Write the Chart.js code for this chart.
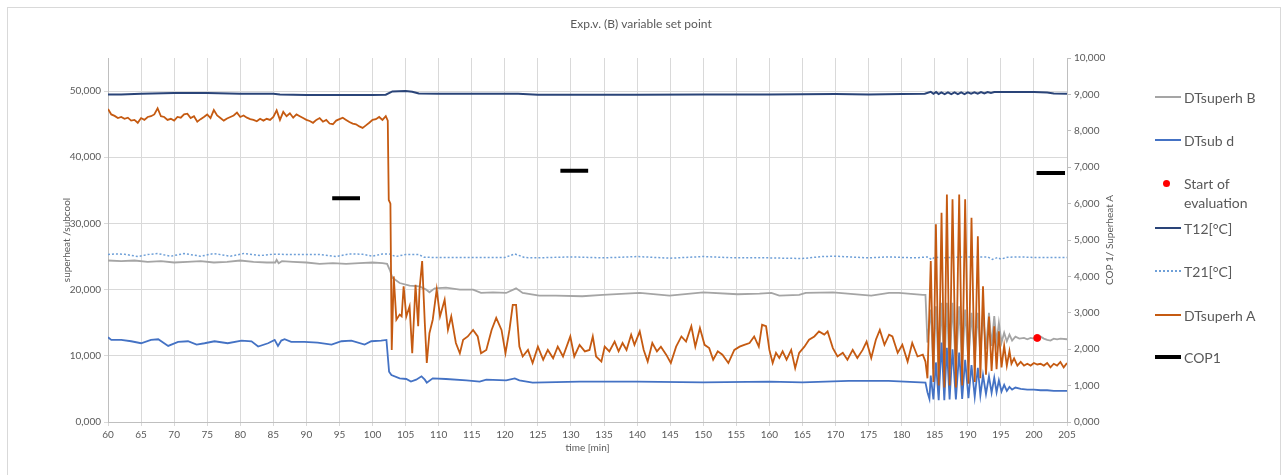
<!DOCTYPE html>
<html>
<head>
<meta charset="utf-8">
<script src="https://cdn.jsdelivr.net/npm/chart.js@4.4.1/dist/chart.umd.min.js"></script>
<style>
  body { margin: 0; background: #fff; font-family: Lato, "Open Sans", sans-serif; }
  #wrap { position: relative; width: 1282px; height: 475px; }
  #frame { position: absolute; left: 7px; top: 7px; width: 1272px; height: 472px; border: 1px solid #d9d9d9; pointer-events: none; }
  .leg { position: absolute; left: 1184px; font-size: 14px; color: #595959; line-height: 19px; transform: translateY(-50%); white-space: nowrap; }
  .sw { position: absolute; left: 1155px; width: 26px; height: 0; }
  .dot { position: absolute; left: 1163px; width: 7px; height: 7px; border-radius: 50%; background: #ff0000; }
</style>
</head>
<body>
<div id="wrap">
  <canvas id="chart" width="1282" height="475"></canvas>
  <div id="frame"></div>
  <div class="sw" style="top:96px;border-top:2px solid #a5a5a5"></div>
  <div class="leg" style="top:97px">DTsuperh B</div>
  <div class="sw" style="top:139px;border-top:2px solid #4472c4"></div>
  <div class="leg" style="top:140px">DTsub d</div>
  <div class="dot" style="top:180px"></div>
  <div class="leg" style="top:193px">Start of<br>evaluation</div>
  <div class="sw" style="top:227px;border-top:2px solid #2a4478"></div>
  <div class="leg" style="top:228px">T12[°C]</div>
  <div class="sw" style="top:270px;border-top:2px dotted #6fa0d8"></div>
  <div class="leg" style="top:271px">T21[°C]</div>
  <div class="sw" style="top:314px;border-top:2px solid #c55a11"></div>
  <div class="leg" style="top:315px">DTsuperh A</div>
  <div class="sw" style="top:355px;border-top:4px solid #000"></div>
  <div class="leg" style="top:357px">COP1</div>
</div>
<script>
// time axis [min], left axis 0..55 (superheat/subcool), right axis 0..10 (COP / superheat A)
const xTicks = [60, 205, 5];

// DTsuperh A (right axis)
const tSuperhA = [
  60, 60.5, 61, 61.5, 62, 62.5, 63, 63.5, 64, 64.5,
  65, 65.5, 66, 66.5, 67, 67.5, 68, 68.5, 69, 69.5,
  70, 70.5, 71, 71.5, 72, 72.5, 73, 73.5, 74, 74.5,
  75, 75.5, 76, 76.5, 77, 77.5, 78, 78.5, 79, 79.5,
  80, 80.5, 81, 81.5, 82, 82.5, 83, 83.5, 84, 84.5,
  85, 85.5, 86, 86.5, 87, 87.5, 88, 88.5, 89, 89.5,
  90, 90.5, 91, 91.5, 92, 92.5, 93, 93.5, 94, 94.5,
  95, 95.5, 96, 96.5, 97, 97.5, 98, 98.5, 99, 99.5,
  100, 100.5, 101, 101.5, 102, 102.3,
  102.45, 102.7, 102.9, 103.2, 103.6, 104.1, 104.4, 104.7, 105.1, 105.6,
  106.0, 106.5, 106.9, 107.1, 107.5, 107.9, 108.2, 108.6, 109.1, 109.7,
  110.2, 110.9, 111.4, 111.9, 112.6, 113.2, 113.7, 114.4, 115.2, 115.9,
  116.4, 117.2, 118.0, 118.7, 119.5, 120.1, 120.7, 121.2, 121.7, 122.2,
  122.7, 123.5, 124.2, 125.0, 125.8, 126.5, 127.3, 128.0, 128.8, 129.9,
  130.5, 131.3, 132.1, 132.8, 133.3, 133.8, 134.6, 135.1, 135.8, 136.6,
  137.2, 137.8, 138.4, 139.1, 139.6, 140.4, 141.0, 141.6, 142.3, 143.0,
  143.6, 144.4, 145.1, 145.9, 146.7, 147.4, 148.2, 148.8, 149.5, 150.2,
  150.9, 151.5, 152.2, 152.9, 153.8, 154.7, 155.5, 156.2, 157.0, 157.7,
  158.4, 158.9, 159.5, 160.0, 160.5, 161.0, 161.5, 162.0, 162.6, 163.3,
  163.9, 164.5, 165.3, 166.0, 166.8, 167.5, 168.3, 168.8, 169.6, 170.3,
  171.1, 171.8, 172.6, 173.3, 174.1, 174.7, 175.4, 176.1, 176.7, 177.4,
  178.1, 178.6, 179.4, 180.1, 180.9, 181.6, 182.4, 183.2, 183.6,
  183.9, 184.4, 184.8, 185.18, 185.6, 186.03, 186.45, 186.84, 187.25, 187.69,
  188.2, 188.7, 189.15, 189.6, 190.1, 190.56, 191.05, 191.52, 191.9, 192.3,
  192.75, 193.2, 193.6, 194.0, 194.35, 194.7, 195.1, 195.5, 195.9, 196.3,
  196.6, 197, 197.5, 198, 198.5, 199, 199.5, 200, 200.5, 201,
  201.5, 202, 202.5, 203, 203.5, 204, 204.5, 205
];
const superhA = [
  8.6, 8.45, 8.41, 8.35, 8.38, 8.33, 8.36, 8.28, 8.3, 8.22,
  8.35, 8.3, 8.38, 8.4, 8.45, 8.62, 8.4, 8.38, 8.3, 8.33,
  8.28, 8.38, 8.36, 8.45, 8.47, 8.35, 8.4, 8.25, 8.32, 8.38,
  8.45, 8.35, 8.57, 8.42, 8.35, 8.28, 8.34, 8.38, 8.42, 8.5,
  8.38, 8.42, 8.36, 8.32, 8.3, 8.26, 8.33, 8.28, 8.33, 8.3,
  8.38, 8.56, 8.3, 8.52, 8.4, 8.48, 8.36, 8.45, 8.4, 8.35,
  8.3, 8.27, 8.22, 8.3, 8.35, 8.25, 8.3, 8.2, 8.18, 8.28,
  8.32, 8.36, 8.3, 8.24, 8.2, 8.18, 8.12, 8.08, 8.15, 8.22,
  8.3, 8.32, 8.38, 8.3, 8.4, 8.28,
  6.1, 6.0, 1.98, 4.0, 2.81, 2.95, 2.9, 3.73, 2.9, 3.18,
  1.89, 3.77, 2.63, 3.64, 4.42, 2.72, 1.62, 2.44, 2.81, 3.64,
  2.9, 3.36, 2.53, 2.9, 2.17, 1.89, 2.26, 2.35, 2.53, 2.35,
  1.89, 1.98, 2.53, 2.86, 2.53, 1.89, 2.53, 3.22, 3.22, 2.07,
  1.8, 1.98, 1.62, 2.07, 1.71, 1.98, 1.75, 2.07, 1.8, 2.35,
  1.8, 2.12, 1.94, 1.98, 2.35, 1.8, 1.66, 2.07, 1.94, 2.21,
  1.94, 2.17, 1.98, 2.4, 2.12, 2.49, 1.98, 1.66, 2.17, 1.94,
  2.07, 1.85, 1.62, 2.07, 2.35, 2.21, 2.63, 2.07, 2.58, 2.12,
  2.03, 1.71, 1.94, 1.85, 1.62, 1.98, 2.07, 2.12, 2.17, 2.35,
  2.07, 2.67, 2.63, 1.98, 1.62, 1.9, 1.76, 1.94, 1.71, 1.98,
  1.48, 1.9, 2.07, 2.26, 2.35, 2.49, 2.4, 2.49, 2.03, 1.8,
  1.9, 1.71, 1.98, 1.76, 1.98, 2.21, 1.76, 2.26, 2.53, 2.12,
  2.4, 2.35, 1.9, 2.12, 1.66, 2.17, 1.8, 1.85, 1.66,
  1.2, 4.42, 1.1, 5.43, 1.0, 5.75, 0.95, 6.25, 1.0, 6.12,
  0.95, 6.25, 1.0, 6.12, 1.05, 5.61, 1.1, 5.1, 1.2, 3.73,
  1.3, 2.9, 1.4, 2.63, 1.45, 2.49, 1.5, 2.1, 1.55, 1.95,
  1.6, 1.75, 1.55, 1.65, 1.55, 1.6, 1.55, 1.62, 1.58, 1.6,
  1.55, 1.62, 1.5, 1.6, 1.55, 1.65, 1.5, 1.62
];

// DTsuperh B (left axis)
const tSuperhB = [
  60, 62, 64, 66, 68, 70, 72, 74, 76, 78,
  80, 82, 84, 85.3, 85.5, 85.8, 86.3, 88, 90, 92,
  94, 96, 98, 100, 101.5, 102.2, 102.6, 103, 104.1, 105.6,
  107.1, 108.1, 108.6, 109.4, 111.1, 113.2, 115.2, 116.4, 118.2, 120.2,
  121.7, 122.7, 125.2, 127.7, 131.7, 134.8, 140.4, 144.9, 150, 155.2,
  158.5, 160.3, 161.5, 164.5, 165.5, 169.6, 175.4, 178.1, 179.6, 183.2,
  183.6,
  183.9, 184.4, 184.8, 185.18, 185.6, 186.03, 186.45, 186.84, 187.25, 187.69,
  188.2, 188.7, 189.15, 189.6, 190.1, 190.56, 191.05, 191.52, 191.9, 192.3,
  192.75, 193.2, 193.6, 194.0, 194.35, 194.7, 195.1, 195.5, 195.9, 196.3,
  196.7, 197.2, 197.8, 198.5, 199, 199.5, 200, 200.5, 201, 201.5,
  202, 202.5, 203, 203.5, 204, 205
];
const superhB = [
  24.4, 24.3, 24.4, 24.2, 24.3, 24.1, 24.2, 24.3, 24.1, 24.2,
  24.4, 24.2, 24.1, 24.1, 24.5, 24.0, 24.3, 24.2, 24.1, 23.9,
  24.0, 23.9, 24.0, 24.1, 24.0, 23.9, 23.0, 21.8, 21.0, 20.6,
  20.5, 20.0, 19.6, 20.2, 20.3, 20.0, 20.0, 19.5, 19.6, 19.5,
  20.2, 19.5, 19.1, 19.1, 19.0, 19.2, 19.5, 19.1, 19.6, 19.3,
  19.4, 19.5, 19.1, 19.2, 19.5, 19.6, 19.1, 19.5, 19.5, 19.2,
  19.2,
  12, 17, 8, 17.5, 7.5, 18, 7.5, 18, 8, 18,
  8, 17.5, 8.5, 17, 9, 16.5, 9.5, 16.5, 10, 16.5,
  11, 16.5, 11.5, 16, 12, 15, 12, 13.5, 12.2, 13.2,
  12.3, 12.9, 12.6, 12.7, 12.5, 12.7, 12.6, 12.7, 12.9, 12.6,
  12.4, 12.3, 12.6, 12.5, 12.6, 12.5
];

// DTsub d (left axis)
const tSubD = [
  60, 60.5, 62, 63.5, 65, 66.5, 67.6, 69.1, 70.6, 72.1,
  73.4, 74.6, 76.1, 78.1, 80.2, 81.7, 82.7, 84.2, 85.2, 85.7,
  86.2, 86.7, 87.7, 89.7, 91.7, 93.8, 95.3, 96.8, 98.8, 99.8,
  101.3, 102.1, 102.5, 102.85, 104.1, 105.1, 105.8, 106.6, 107.4, 107.9,
  108.2, 109.1, 111.1, 114.2, 116.2, 117.2, 120.2, 121.5, 122.2, 124.2,
  131.3, 140, 150, 160, 165, 172, 178, 183.6,
  183.9, 184.2, 184.4, 184.8, 185.18, 185.6, 186.03, 186.45, 186.84, 187.25,
  187.69, 188.2, 188.7, 189.15, 189.6, 190.1, 190.56, 191.05, 191.52, 191.9,
  192.3, 192.75, 193.2, 193.6, 194.0, 194.35, 194.7, 195.1, 195.5, 195.9,
  196.3, 196.7, 197.2, 198, 199, 200, 201, 202, 203, 204,
  205
];
const subD = [
  12.8, 12.4, 12.4, 12.2, 11.9, 12.4, 12.5, 11.5, 12.1, 12.2,
  11.7, 11.9, 12.2, 11.9, 12.3, 12.2, 11.4, 11.9, 12.4, 11.5,
  12.3, 12.5, 12.1, 12.1, 12.0, 11.7, 12.2, 12.3, 11.7, 12.2,
  12.3, 12.4, 7.6, 7.1, 6.6, 6.5, 6.1, 6.4, 6.9, 6.4,
  5.95, 6.6, 6.5, 6.3, 6.1, 6.4, 6.3, 6.6, 6.3, 5.95,
  6.1, 6.1, 6.0, 6.1, 6.0, 6.2, 6.2, 5.95,
  4.5, 3.5, 7.0, 3.4, 9.0, 3.3, 12.0, 3.3, 11.2, 3.4,
  11.0, 3.4, 10.5, 3.5, 9.4, 3.6, 8.6, 3.8, 8.2, 4.0,
  7.1, 4.2, 6.9, 4.4, 6.7, 4.5, 6.3, 4.6, 5.6, 4.7,
  5.3, 4.9, 5.2, 5.0, 4.9, 4.9, 4.8, 4.8, 4.7, 4.7,
  4.7
];

// T12[°C] (left axis)
const tT12 = [
  60, 62, 65, 70, 75, 80, 85, 86, 90, 95,
  100, 102, 103, 105, 106, 107, 110, 115, 120, 122,
  125, 130, 140, 150, 160, 170, 175, 180, 183.5, 184.4,
  184.8, 185.2, 185.6, 186, 186.5, 187, 187.5, 188, 188.5, 189,
  189.5, 190, 190.5, 191, 191.5, 192, 192.5, 193, 193.5, 194,
  195, 197, 200, 202, 203, 205
];
const t12 = [
  49.5, 49.5, 49.6, 49.7, 49.7, 49.6, 49.6, 49.5, 49.4, 49.4,
  49.4, 49.45, 49.95, 50.0, 49.9, 49.65, 49.6, 49.6, 49.6, 49.6,
  49.45, 49.45, 49.45, 49.5, 49.5, 49.55, 49.5, 49.55, 49.6, 49.9,
  49.6, 49.85, 49.55, 49.8, 49.55, 49.8, 49.55, 49.8, 49.55, 49.8,
  49.55, 49.8, 49.6, 49.8, 49.6, 49.85, 49.65, 49.85, 49.7, 49.85,
  49.85, 49.85, 49.85, 49.8, 49.65, 49.6
];

// T21[°C] (left axis)
const tT21 = [
  60, 61, 62.5, 64.5, 66, 67.5, 69.5, 71.5, 74, 76,
  78.5, 80.5, 83, 85, 88, 92, 94.5, 96.5, 98.5, 100,
  101.5, 102.5, 103.5, 105, 107, 107.8, 110, 115, 120, 121.5,
  123, 125, 130, 135, 140, 145, 150, 155, 160, 165,
  168, 170, 175, 178, 182, 184, 184.5, 185, 186, 190,
  193, 193.7, 194.5, 195, 196, 198, 200, 205
];
const t21 = [
  25.3, 25.4, 25.35, 25.0, 25.3, 25.45, 25.05, 25.45, 25.05, 25.45,
  25.05, 25.45, 25.15, 25.35, 25.3, 25.3, 25.0, 25.4, 25.35, 25.05,
  25.4, 25.4, 25.0, 25.3, 25.3, 24.9, 24.85, 24.85, 24.85, 25.4,
  24.85, 24.8, 24.95, 24.8, 25.0, 24.75, 25.0, 24.8, 24.8, 24.7,
  25.0, 25.05, 24.8, 24.95, 24.8, 24.95, 24.55, 24.9, 24.8, 24.95,
  24.95, 24.55, 24.85, 24.6, 24.9, 24.95, 24.85, 24.85
];

// COP1 (right axis), three short averaged periods
const tCop1 = [93.9, 98.1, 113, 128.4, 132.6, 166, 200.4, 204.7];
const cop1 = [6.15, 6.15, null, 6.9, 6.9, null, 6.84, 6.84];

// Start of evaluation (left axis)
const tStart = [200.5];
const startEval = [12.7];

const grey = '#595959';
const fmt3 = v => v.toFixed(3).replace('.', ',');

function pts(xs, ys) {
  return xs.map((x, i) => ({ x: x, y: ys[i] }));
}

// right axis title reads bottom-to-top like the left one
const rightTitle = {
  id: 'rightTitle',
  afterDraw(chart) {
    const s = chart.scales.y2;
    const ctx = chart.ctx;
    ctx.save();
    ctx.translate(s.left + 43, (s.top + s.bottom) / 2);
    ctx.rotate(-Math.PI / 2);
    ctx.font = '10px Lato, "Open Sans", sans-serif';
    ctx.fillStyle = grey;
    ctx.textAlign = 'center';
    ctx.textBaseline = 'middle';
    ctx.fillText('COP 1/ Superheat A', 0, 0);
    ctx.restore();
  }
};

const line = (label, xs, ys, color, axis, width, order, extra) => Object.assign({
  type: 'line',
  label: label,
  data: pts(xs, ys),
  borderColor: color,
  backgroundColor: color,
  borderWidth: width,
  pointRadius: 0,
  tension: 0,
  yAxisID: axis,
  order: order
}, extra || {});

new Chart(document.getElementById('chart'), {
  type: 'line',
  data: {
    datasets: [
      line('DTsuperh B', tSuperhB, superhB, '#a5a5a5', 'y', 1.8, 6),
      line('DTsub d', tSubD, subD, '#4472c4', 'y', 1.8, 5),
      {
        type: 'scatter', label: 'Start of evaluation', data: pts(tStart, startEval),
        yAxisID: 'y', pointRadius: 3.5, pointBackgroundColor: '#ff0000', pointBorderColor: '#ff0000', order: 0
      },
      line('T12[°C]', tT12, t12, '#2a4478', 'y', 2, 3),
      line('T21[°C]', tT21, t21, '#6fa0d8', 'y', 1.5, 4, { borderDash: [2, 2] }),
      line('DTsuperh A', tSuperhA, superhA, '#c55a11', 'y2', 1.8, 2),
      line('COP1', tCop1, cop1, '#000000', 'y2', 4, 1, { spanGaps: false })
    ]
  },
  options: {
    responsive: false,
    animation: false,
    devicePixelRatio: 1,
    layout: { padding: { left: 10, right: 10, top: 0, bottom: 8 } },
    plugins: {
      legend: { display: false },
      tooltip: { enabled: false },
      title: {
        display: true,
        text: 'Exp.v. (B) variable set point',
        color: grey,
        font: { family: 'Lato, "Open Sans", sans-serif', size: 12, weight: 'normal' },
        padding: { top: 17, bottom: 26.6 }
      }
    },
    scales: {
      x: {
        type: 'linear',
        min: xTicks[0],
        max: xTicks[1],
        ticks: { stepSize: xTicks[2], autoSkip: false, maxRotation: 0, color: grey, font: { family: 'Lato', size: 10 }, padding: 3 },
        grid: { color: '#d9d9d9', tickLength: 4 },
        border: { color: '#bfbfbf' },
        title: { display: true, text: 'time [min]', color: grey, font: { family: 'Lato', size: 10 }, padding: { top: 0, bottom: 13 } },
        afterFit: s => { s.height = 45; }
      },
      y: {
        position: 'left',
        min: 0,
        max: 55,
        ticks: { stepSize: 10, color: grey, font: { family: 'Lato', size: 10 }, callback: fmt3, padding: 3 },
        afterBuildTicks: s => { s.ticks = s.ticks.filter(t => t.value <= 50); },
        grid: { color: '#d9d9d9', tickLength: 4 },
        border: { color: '#bfbfbf' },
        title: { display: true, text: 'superheat /subcool', color: grey, font: { family: 'Lato', size: 10 }, padding: { top: 51, bottom: 0 } },
        afterFit: s => { s.width = 98; }
      },
      y2: {
        position: 'right',
        min: 0,
        max: 10,
        ticks: { stepSize: 1, color: grey, font: { family: 'Lato', size: 10 }, callback: fmt3, padding: 3 },
        grid: { drawOnChartArea: false, color: '#bfbfbf', tickLength: 4 },
        border: { color: '#bfbfbf' },
        afterFit: s => { s.width = 205; }
      }
    }
  },
  plugins: [rightTitle]
});
</script>
</body>
</html>
